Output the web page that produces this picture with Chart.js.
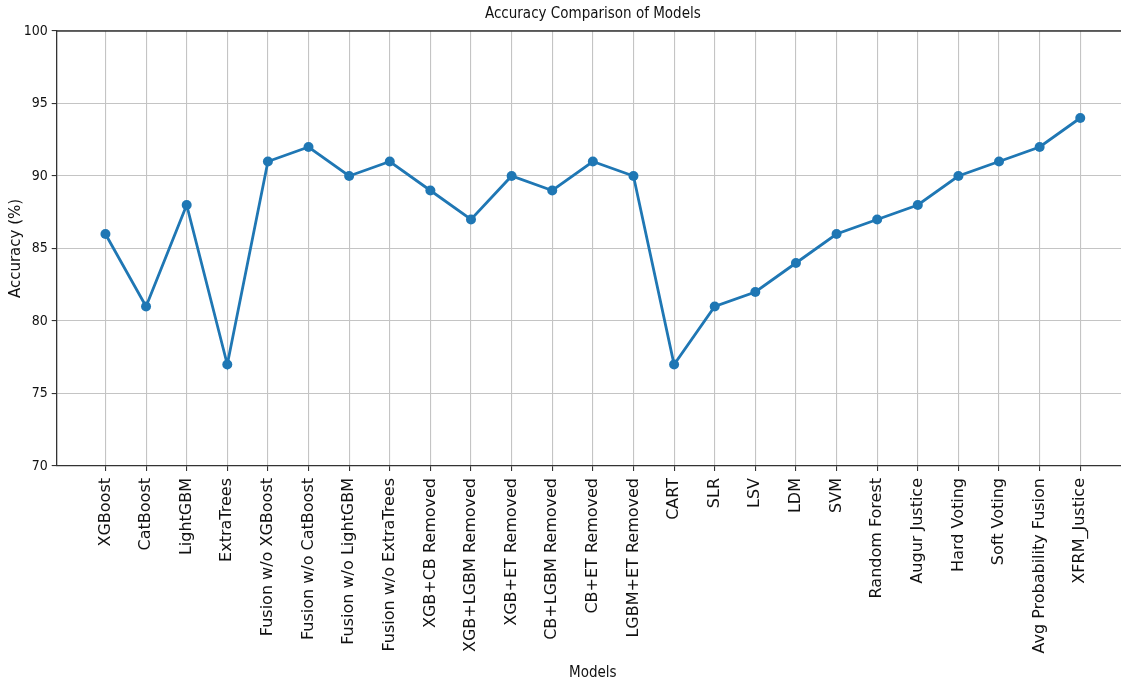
<!DOCTYPE html>
<html lang="en">
<head>
<meta charset="UTF-8">
<title>Accuracy Comparison of Models</title>
<script src="https://cdn.jsdelivr.net/npm/chart.js@4.4.1/dist/chart.umd.min.js"></script>
<style>
	html, body { margin: 0; padding: 0; background: #fff; overflow: hidden; }
	/* the reference is cropped on the right, so the canvas runs a bit past the window */
	#wrap { width: 1134px; height: 684px; }
</style>
</head>
<body>
	<div id="wrap"><canvas id="accchart"></canvas></div>

	<script>
		// model names (x categories)
		var models = ["XGBoost", "CatBoost", "LightGBM", "ExtraTrees",
			"Fusion w/o XGBoost", "Fusion w/o CatBoost", "Fusion w/o LightGBM", "Fusion w/o ExtraTrees",
			"XGB+CB Removed", "XGB+LGBM Removed", "XGB+ET Removed", "CB+LGBM Removed",
			"CB+ET Removed", "LGBM+ET Removed", "CART", "SLR", "LSV", "LDM", "SVM",
			"Random Forest", "Augur Justice", "Hard Voting", "Soft Voting",
			"Avg Probability Fusion", "XFRM_Justice"];
		// accuracy in %
		var accuracy = [86, 81, 88, 77, 91, 92, 90, 91, 89, 87, 90, 89, 91, 90,
			77, 81, 82, 84, 86, 87, 88, 90, 91, 92, 94];
		var yTicks = [70, 75, 80, 85, 90, 95, 100];
		var titleText = 'Accuracy Comparison of Models';

		var narrow = "'DejaVu Sans Condensed', 'Liberation Sans Narrow', 'DejaVu Sans', sans-serif";
		var lineColor = "#1f77b4";

		var points = [];
		for (var i = 0; i < models.length; ++i) {
			points.push({ x : i, y : accuracy[i] });
		}

		// top spine + title centred over the axes (matplotlib style)
		var frame = {
			id : 'frame',
			afterDraw : function(chart) {
				var a = chart.chartArea;
				var ctx = chart.ctx;
				ctx.save();
				ctx.strokeStyle = "#333";
				ctx.lineWidth = 1.3;
				ctx.beginPath();
				ctx.moveTo(a.left, a.top);
				ctx.lineTo(a.right, a.top);
				ctx.stroke();
				ctx.fillStyle = "#111";
				ctx.font = "15px " + narrow;
				ctx.textAlign = "center";
				ctx.textBaseline = "middle";
				ctx.fillText(titleText, (a.left + a.right) / 2, 14);
				ctx.restore();
			}
		};

		var ctx = document.getElementById('accchart').getContext('2d');
		var chart = new Chart(ctx, {
			type : 'line',
			data : {
				datasets : [ {
					label : 'Accuracy',
					data : points,
					borderColor : lineColor,
					backgroundColor : lineColor,
					borderWidth : 2.8,
					pointRadius : 5,
					pointHoverRadius : 5,
					pointBorderWidth : 0,
					tension : 0,
					fill : false
				} ]
			},
			options : {
				responsive : true,
				maintainAspectRatio : false,
				animation : false,
				layout : { padding : { top : 31, right : 0, left : 0, bottom : 0 } },
				plugins : {
					legend : { display : false },
					tooltip : { enabled : false },
					title : { display : false }
				},
				scales : {
					x : {
						type : 'linear',
						min : -1.2,
						max : 25.2,
						afterBuildTicks : function(scale) {
							scale.ticks = models.map(function(m, i) { return { value : i }; });
						},
						afterFit : function(scale) {
							scale.height = 218;
							scale.paddingLeft = 0;
							scale.paddingRight = 0;
						},
						ticks : {
							autoSkip : false,
							minRotation : 90,
							maxRotation : 90,
							padding : 7,
							color : '#111',
							font : { family : "'DejaVu Sans', sans-serif", size : 16 },
							callback : function(v) { return models[v]; }
						},
						grid : {
							color : '#c4c4c4',
							lineWidth : 1.1,
							tickLength : 5,
							tickColor : '#333'
						},
						border : { color : '#333', width : 1.3 },
						title : {
							display : true,
							text : 'Models',
							color : '#111',
							font : { family : narrow, size : 15 },
							padding : { top : 0, bottom : 2 }
						}
					},
					y : {
						min : 70,
						max : 100,
						afterBuildTicks : function(scale) {
							scale.ticks = yTicks.map(function(v) { return { value : v }; });
						},
						afterFit : function(scale) { scale.width = 56.7; },
						ticks : {
							padding : 4,
							color : '#111',
							font : { family : narrow, size : 14 }
						},
						grid : {
							color : '#c4c4c4',
							lineWidth : 1.1,
							tickLength : 5,
							tickColor : '#333'
						},
						border : { color : '#333', width : 1.3 },
						title : {
							display : true,
							text : 'Accuracy (%)',
							color : '#111',
							font : { family : "'DejaVu Sans', sans-serif", size : 15 },
							padding : { top : 7, bottom : 0 }
						}
					}
				}
			},
			plugins : [ frame ]
		});
	</script>
</body>
</html>
